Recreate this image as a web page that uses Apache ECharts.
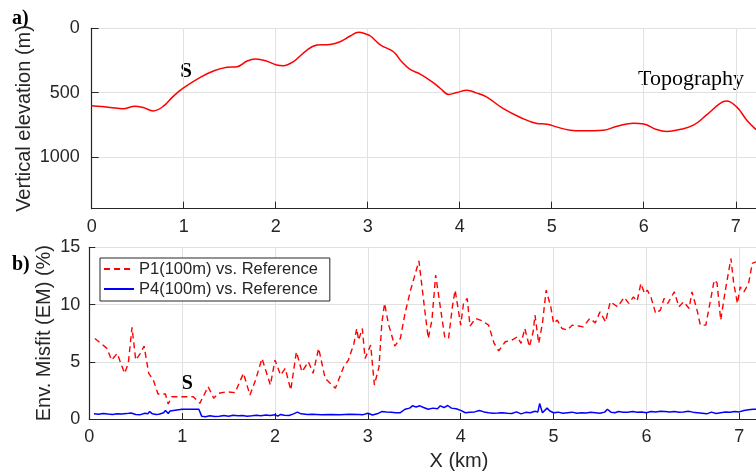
<!DOCTYPE html>
<html>
<head>
<meta charset="utf-8">
<script src="https://cdn.jsdelivr.net/npm/echarts@6/dist/echarts.min.js"></script>
<style>
html,body{margin:0;padding:0;background:#fff;overflow:hidden;}
#chart{width:756px;height:472px;}
</style>
</head>
<body>
<div id="chart"></div>
<script>
// Topography: [x (km), elevation (m)]
const topoX = [0,0.2,0.34,0.47,0.56,0.67,0.78,0.88,0.99,1.18,1.33,1.47,1.58,1.69,1.78,1.89,2.01,2.08,2.19,2.34,2.45,2.59,2.7,2.81,2.9,2.99,3.03,3.14,3.28,3.37,3.46,3.57,3.7,3.79,3.88,3.97,4.08,4.18,4.29,4.47,4.66,4.84,4.95,5.05,5.2,5.34,5.56,5.71,5.89,6.0,6.14,6.25,6.39,6.54,6.68,6.83,6.9,7.01,7.12,7.22];
const topoY = [602,614,625,604,615,641,604,532,467,381,330,303,298,254,239,252,285,291,260,169,130,125,104,60,31,47,60,130,182,260,319,355,415,467,513,498,480,501,532,622,692,739,744,765,791,796,791,760,736,742,786,801,786,752,674,583,565,610,713,786];

// P1(100m) vs. Reference: [x (km), misfit %]
const p1X = [0.06,0.19,0.24,0.30,0.38,0.42,0.46,0.50,0.55,0.59,0.64,0.69,0.74,0.82,0.85,0.89,1.0,1.12,1.19,1.28,1.34,1.39,1.48,1.57,1.66,1.73,1.79,1.86,1.95,2.00,2.06,2.11,2.17,2.23,2.29,2.36,2.41,2.47,2.54,2.65,2.74,2.79,2.85,2.88,2.90,2.94,2.97,3.03,3.07,3.12,3.15,3.18,3.22,3.29,3.35,3.40,3.46,3.55,3.60,3.65,3.69,3.73,3.78,3.83,3.87,3.91,3.94,4.00,4.03,4.07,4.10,4.16,4.23,4.30,4.36,4.41,4.48,4.55,4.61,4.65,4.69,4.74,4.78,4.80,4.84,4.88,4.92,4.97,5.00,5.04,5.09,5.15,5.20,5.27,5.32,5.39,5.45,5.50,5.56,5.61,5.69,5.76,5.81,5.86,5.90,5.94,5.98,6.01,6.05,6.10,6.15,6.19,6.23,6.30,6.35,6.40,6.46,6.49,6.55,6.58,6.64,6.69,6.73,6.76,6.80,6.85,6.91,6.94,6.98,7.01,7.05,7.10,7.14,7.18];
const p1Y = [7.04,6.17,5.15,5.73,3.99,4.86,8.0,5.15,5.73,6.37,3.99,3.40,2.18,2.18,1.31,1.95,1.95,1.95,1.37,2.82,1.81,2.24,2.38,2.30,3.99,2.09,3.40,5.29,2.97,5.15,3.84,4.42,2.53,5.87,4.13,5.0,3.99,6.17,3.55,2.68,4.56,5.15,6.6,7.91,6.89,7.91,5.29,6.46,2.97,4.56,8.35,10.1,8.35,6.37,7.04,9.22,11.26,13.81,10.38,7.04,8.64,12.57,9.80,7.04,7.1,9.80,11.26,8.2,10.1,10.53,8.12,8.79,8.58,8.2,6.6,5.96,6.75,6.89,7.18,6.6,7.91,6.31,7.62,9.08,6.6,8.35,11.26,9.80,8.35,8.64,7.91,7.77,8.2,8.12,8.05,8.79,8.4,9.36,8.49,10.24,9.80,10.62,10.1,10.67,10.3,11.84,10.97,11.26,10.6,9.22,9.51,10.53,10.1,11.11,9.80,10.24,9.66,11.11,9.36,8.2,8.2,10.38,12.13,11.9,8.64,11.26,14.02,11.84,10.1,11.55,11.11,11.84,13.59,13.73];

// P4(100m) vs. Reference: [x (km), misfit %]
const p4X = [0.05,0.1,0.15,0.2,0.25,0.3,0.35,0.4,0.45,0.5,0.55,0.6,0.63,0.65,0.68,0.72,0.75,0.8,0.82,0.85,0.87,0.89,1.0,1.1,1.18,1.21,1.25,1.3,1.35,1.4,1.45,1.5,1.55,1.6,1.65,1.7,1.75,1.8,1.85,1.9,1.95,2.0,2.03,2.06,2.1,2.15,2.2,2.24,2.28,2.35,2.4,2.5,2.6,2.7,2.8,2.9,2.95,3.0,3.05,3.1,3.15,3.2,3.25,3.3,3.35,3.4,3.45,3.48,3.52,3.56,3.6,3.65,3.7,3.75,3.78,3.82,3.86,3.9,3.95,4.0,4.05,4.1,4.15,4.2,4.25,4.3,4.35,4.4,4.45,4.5,4.55,4.6,4.65,4.7,4.75,4.8,4.83,4.85,4.88,4.9,4.93,4.96,5.0,5.05,5.1,5.15,5.2,5.25,5.3,5.35,5.4,5.45,5.5,5.55,5.58,5.62,5.66,5.7,5.75,5.8,5.85,5.9,5.95,6.0,6.05,6.1,6.15,6.2,6.25,6.3,6.35,6.4,6.45,6.5,6.55,6.6,6.65,6.7,6.75,6.8,6.85,6.9,6.95,7.0,7.05,7.1,7.15,7.2];
const p4Y = [0.45,0.42,0.48,0.43,0.40,0.45,0.44,0.47,0.52,0.40,0.38,0.50,0.45,0.65,0.45,0.40,0.42,0.55,0.75,0.48,0.70,0.85,0.85,0.85,0.85,0.25,0.20,0.28,0.22,0.25,0.30,0.25,0.32,0.28,0.30,0.24,0.28,0.33,0.28,0.35,0.30,0.38,0.25,0.40,0.32,0.30,0.45,0.60,0.45,0.40,0.42,0.38,0.40,0.38,0.42,0.40,0.38,0.50,0.35,0.45,0.65,0.62,0.60,0.55,0.55,0.85,0.95,1.15,1.05,1.15,1.0,0.85,0.95,0.90,1.15,1.0,1.18,0.95,0.90,0.75,0.55,0.60,0.62,0.75,0.62,0.55,0.50,0.52,0.55,0.50,0.48,0.62,0.45,0.58,0.55,0.68,0.60,1.35,0.55,0.40,0.95,0.70,0.55,0.60,0.50,0.55,0.60,0.50,0.55,0.52,0.58,0.55,0.50,0.60,0.85,0.58,0.55,0.65,0.60,0.60,0.65,0.60,0.62,0.55,0.65,0.62,0.68,0.65,0.62,0.65,0.60,0.62,0.68,0.60,0.55,0.50,0.45,0.60,0.48,0.55,0.62,0.58,0.65,0.62,0.75,0.80,0.85,0.85];

const xTicks = [0,1,2,3,4,5,6,7];

const zip = (a, b) => a.map((v, i) => [v, b[i]]);
const sans = '"Liberation Sans", Arial, Helvetica, sans-serif';
const serif = '"Liberation Serif", "Times New Roman", serif';
const axisCol = '#262626';
const gridCol = '#e1e1e1';

function xAxisCfg(idx, max, tickLen) {
  return {
    type: 'value', gridIndex: idx, min: 0, max: max, interval: 1,
    axisLine: {show: true, onZero: false, lineStyle: {color: axisCol, width: 1.2}},
    axisTick: {show: true, inside: true, length: tickLen, lineStyle: {color: axisCol}},
    axisLabel: {color: axisCol, fontSize: 18, fontFamily: sans, margin: 9, showMaxLabel: false,
      formatter: v => (xTicks.indexOf(v) >= 0 ? String(v) : '')},
    splitLine: {show: true, lineStyle: {color: gridCol, width: 1}}
  };
}

const chart = echarts.init(document.getElementById('chart'), null, {renderer: 'canvas'});
chart.setOption({
  animation: false,
  backgroundColor: '#ffffff',
  grid: [
    {left: 91.7, top: 28.3, width: 664.3, height: 180.4, containLabel: false, outerBoundsMode: 'none'},
    {left: 89.3, top: 247.3, width: 666.7, height: 171.7, containLabel: false, outerBoundsMode: 'none'}
  ],
  xAxis: [xAxisCfg(0, 7.22, 7), xAxisCfg(1, 7.18, 6)],
  yAxis: [
    {
      type: 'value', gridIndex: 0, min: 0, max: 1400, interval: 500, inverse: true,
      name: 'Vertical elevation (m)', nameLocation: 'middle', nameGap: 57, nameMoveOverlap: false,
      nameTextStyle: {color: axisCol, fontSize: 20, fontFamily: sans},
      axisLine: {show: true, lineStyle: {color: axisCol, width: 1.2}},
      axisTick: {show: true, inside: true, length: 7, lineStyle: {color: axisCol}},
      axisLabel: {color: axisCol, fontSize: 18, fontFamily: sans, margin: 12, showMaxLabel: false,
        formatter: v => String(v)},
      splitLine: {show: true, lineStyle: {color: gridCol, width: 1}}
    },
    {
      type: 'value', gridIndex: 1, min: 0, max: 15, interval: 5,
      name: 'Env. Misfit (EM) (%)', nameLocation: 'middle', nameGap: 35, nameMoveOverlap: false,
      nameTextStyle: {color: axisCol, fontSize: 20, fontFamily: sans},
      axisLine: {show: true, lineStyle: {color: axisCol, width: 1.2}},
      axisTick: {show: true, inside: true, length: 6, lineStyle: {color: axisCol}},
      axisLabel: {color: axisCol, fontSize: 18, fontFamily: sans, margin: 9, formatter: v => String(v)},
      splitLine: {show: true, lineStyle: {color: gridCol, width: 1}}
    }
  ],
  legend: {
    data: ['P1(100m) vs. Reference', 'P4(100m) vs. Reference'],
    orient: 'vertical', left: 100, top: 258,
    itemWidth: 30, itemHeight: 14, itemGap: 2,
    padding: [2, 12, 3, 3],
    itemStyle: {opacity: 0},
    backgroundColor: '#ffffff', borderColor: '#262626', borderWidth: 1, borderRadius: 0,
    textStyle: {color: '#262626', fontSize: 16.5, fontFamily: sans, lineHeight: 18}
  },
  series: [
    {
      name: 'Topography', type: 'line', xAxisIndex: 0, yAxisIndex: 0,
      data: zip(topoX, topoY), smooth: 0.4, symbol: 'none',
      lineStyle: {color: '#ff0000', width: 1.5}, z: 3
    },
    {
      name: 'P1(100m) vs. Reference', type: 'line', xAxisIndex: 1, yAxisIndex: 1,
      data: zip(p1X, p1Y), symbol: 'none', itemStyle: {color: '#ff0000'},
      lineStyle: {color: '#ff0000', width: 1.4, type: [6, 4]}, z: 3
    },
    {
      name: 'P4(100m) vs. Reference', type: 'line', xAxisIndex: 1, yAxisIndex: 1,
      data: zip(p4X, p4Y), symbol: 'none', itemStyle: {color: '#0000ff'},
      lineStyle: {color: '#0000ff', width: 1.5}, z: 3
    }
  ],
  graphic: [
    {type: 'text', left: 12, top: 9, style: {text: 'a)', font: 'bold 20px ' + serif, fill: '#000'}},
    {type: 'text', left: 12, top: 255, style: {text: 'b)', font: 'bold 20px ' + serif, fill: '#000'}},
    {type: 'text', x: 186, y: 72, style: {text: 'S', font: 'bold 21px ' + serif, fill: '#000', textAlign: 'center', textVerticalAlign: 'middle'}},
    {type: 'text', x: 187, y: 384, style: {text: 'S', font: 'bold 21px ' + serif, fill: '#000', textAlign: 'center', textVerticalAlign: 'middle'}},
    {type: 'text', x: 691, y: 79, style: {text: 'Topography', font: '22px ' + serif, fill: '#000', textAlign: 'center', textVerticalAlign: 'middle'}},
    {type: 'text', x: 459, y: 461, style: {text: 'X (km)', font: '20px ' + sans, fill: axisCol, textAlign: 'center', textVerticalAlign: 'middle'}}
  ]
});
</script>
</body>
</html>
